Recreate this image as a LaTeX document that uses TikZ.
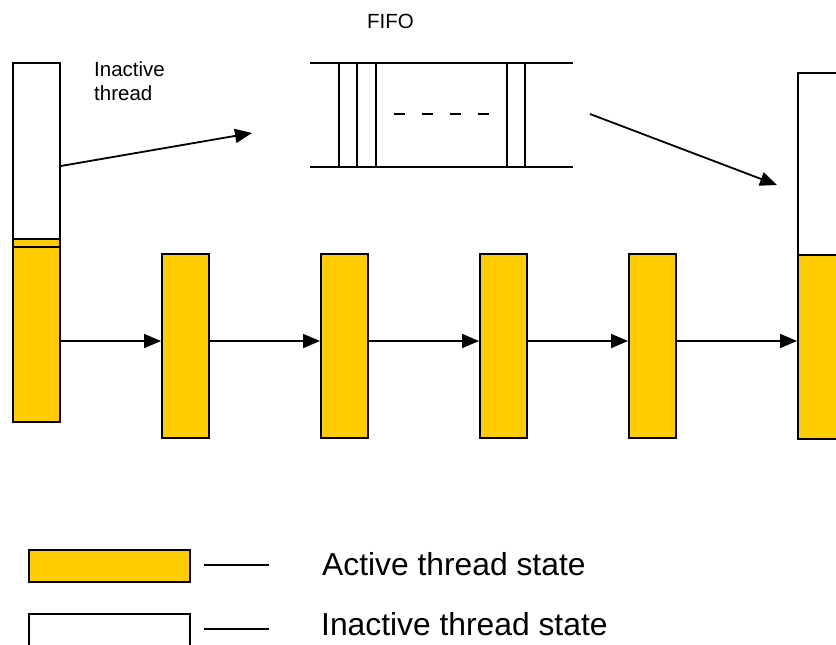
\documentclass[tikz,border=0pt]{standalone}
\usepackage{fontspec}
\setmainfont{Liberation Sans}
\usetikzlibrary{arrows.meta}
\definecolor{activeyellow}{RGB}{255,204,0}
\tikzset{
  state/.style={draw=black, line width=1.8pt, inner sep=0pt, anchor=north west, minimum width=47pt},
  active/.style={state, fill=activeyellow},
  inactive/.style={state, fill=white},
  flow/.style={draw=black, line width=1.8pt, -{Triangle[length=17pt,width=14pt]}},
  fifoline/.style={draw=black, line width=1.8pt},
  label/.style={inner sep=0pt, anchor=base west, text=black}
}
\begin{document}
\begin{tikzpicture}[x=1pt, y=-1pt]
  \useasboundingbox (0,0) rectangle (836,645);
  \clip (0,0) rectangle (836,645);

  % left thread: inactive part on top of active part
  \node[inactive, minimum height=176pt] (c1top) at (12,62) {};
  \node[active, minimum height=8pt] (c1strip) at (12,238) {};
  \node[active, minimum height=175pt] (c1) at (12,246) {};

  % chain of active threads
  \node[active, minimum height=184pt] (c2) at (161,253) {};
  \node[active, minimum height=184pt] (c3) at (320,253) {};
  \node[active, minimum height=184pt] (c4) at (479,253) {};
  \node[active, minimum height=184pt] (c5) at (628,253) {};

  % right thread: restored inactive part above active part
  \node[inactive, minimum width=60pt, minimum height=182pt] (c6top) at (797,72) {};
  \node[active, minimum width=60pt, minimum height=184pt] (c6) at (797,254) {};

  % horizontal flow between threads
  \coordinate (ay) at (0,341);
  \draw[flow] (c1.east |- ay) -- (c2.west |- ay);
  \draw[flow] (c2.east |- ay) -- (c3.west |- ay);
  \draw[flow] (c3.east |- ay) -- (c4.west |- ay);
  \draw[flow] (c4.east |- ay) -- (c5.west |- ay);
  \draw[flow] (c5.east |- ay) -- (c6.west |- ay);

  % FIFO queue
  \node[label, font=\fontsize{20.5pt}{24pt}\selectfont] (fifolabel) at (367,28) {FIFO};
  \coordinate (qtl) at (310,63);
  \coordinate (qtr) at (573,63);
  \coordinate (qbl) at (310,167);
  \coordinate (qbr) at (573,167);
  \draw[fifoline] (qtl) -- (qtr);
  \draw[fifoline] (qbl) -- (qbr);
  \foreach \qx in {339,357,376,507,525}{
    \draw[fifoline] (\qx,63) -- (\qx,167);
  }
  \draw[line width=1.8pt, dash pattern=on 11pt off 17pt] (394,114) -- (490,114);

  % inactive thread pushed into / popped from the FIFO
  \node[label, font=\fontsize{20.5pt}{24pt}\selectfont] (inactlabel1) at (94,76) {Inactive};
  \node[label, font=\fontsize{20.5pt}{24pt}\selectfont] (inactlabel2) at (94,100) {thread};
  \coordinate (pushend) at (252,133);
  \draw[flow] (c1top.east |- 0,166) -- (pushend);
  \coordinate (popstart) at (590,114);
  \coordinate (popend) at (777,185);
  \draw[flow] (popstart) -- (popend);

  % legend
  \node[active, minimum width=161pt, minimum height=32pt] (legact) at (28,549) {};
  \node[inactive, minimum width=161pt, minimum height=32pt] (leginact) at (28,613) {};
  \coordinate (la1) at (204,565);
  \coordinate (la2) at (269,565);
  \coordinate (li1) at (204,629);
  \coordinate (li2) at (269,629);
  \draw[line width=1.8pt] (la1) -- (la2);
  \draw[line width=1.8pt] (li1) -- (li2);
  \node[label, font=\fontsize{31.8pt}{36pt}\selectfont] (legacttext) at (322,575) {Active thread state};
  \node[label, font=\fontsize{31.8pt}{36pt}\selectfont] (leginacttext) at (321,635) {Inactive thread state};
\end{tikzpicture}
\end{document}
